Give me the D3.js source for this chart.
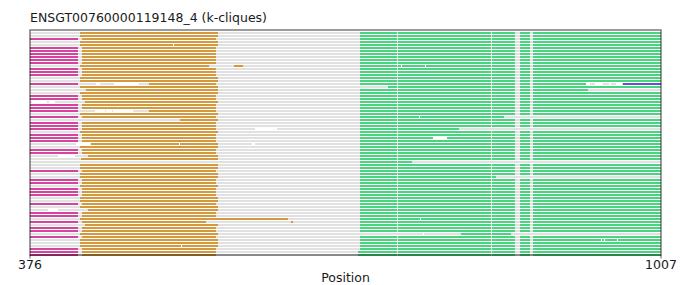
<!DOCTYPE html>
<html>
<head>
<meta charset="utf-8">
<script src="https://cdn.jsdelivr.net/npm/d3@7"></script>
<style>
  body { margin: 0; background: #fff; }
  text { font-family: "DejaVu Sans", sans-serif; fill: #1a1a1a; }
</style>
</head>
<body>
<div id="chart"></div>
<script>
const width = 691;
const height = 285;

// --- data (positions in sequence coordinates) ---
const title = "ENSGT00760000119148_4 (k-cliques)";
const xDomain = [376, 1007];
const xTicks = [376, 1007];
const rowCount = 75;

const magentaRows = [2, 5, 6, 7, 8, 9, 10, 12, 13, 14, 17, 21, 22, 24, 25, 26, 28, 30, 31, 32,
    34, 35, 36, 39, 40, 46, 49, 50, 52, 53, 54, 57, 60, 61, 63, 65, 66, 68, 72, 73, 74];
const magentaSpan = [376, 424];

// orange default depends on whether the row has a magenta block
const orangeWithMagenta = [428, 562];
const orangeWithout = [425.5, 563.5];
const orangeOverrides = [
    [11, [[425.5, 555], [580, 589]]],
    [17, [[495, 562]]],
    [19, [[432, 564]]],
    [23, [[431, 564]]],
    [26, [[495, 562]]],
    [29, [[526, 564]]],
    [37, [[437, 564]]],
    [41, [[434, 564]]],
    [42, [[427, 564]]],
    [43, []],
    [59, [[434, 564]]],
    [62, [[425.5, 633.7]]],
    [63, [[428, 552], [637, 639]]],
    [64, [[431, 564]]]
];

const greenDefault = [705.5, 1007];
const greenOverrides = [
    [17, [705.5, 932]],
    [18, [734, 1007]],
    [19, [705.5, 934]],
    [28, [705.5, 850]],
    [32, [705.5, 805]],
    [43, [705.5, 758]],
    [48, [705.5, 842]],
    [67, [807, 857]],
    [73, [704, 1007]],
    [74, [704, 1007]]
];
// columns missing in every green block
const greenGaps = [[743, 744], [837, 838], [861, 866], [876, 879]];

const purpleSegments = [[17, 969, 1007]];

// small white holes
const whiteGaps = [
    [4, 519, 520],
    [11, 747, 748], [11, 771, 772],
    [17, 442, 446], [17, 460, 485], [17, 932, 936], [17, 941, 949], [17, 955, 957], [17, 962, 968],
    [23, 378, 393], [23, 395, 401],
    [26, 441, 451], [26, 452, 458], [26, 459, 479],
    [28, 765, 766],
    [32, 601, 623],
    [35, 779, 793],
    [37, 422, 436], [37, 525, 526], [37, 598, 601],
    [41, 404, 421],
    [59, 394, 404],
    [62, 766, 767],
    [67, 769, 770],
    [69, 947, 948], [69, 950, 951], [69, 963, 964],
    [71, 527, 528]
];

const colors = {
    gray: "#e1e1e1",
    magenta: "#d6449e",
    orange: "#d4983e",
    green: "#4bd480",
    purple: "#6650d2"
};

// --- drawing ---
const svg = d3.select("#chart").append("svg")
    .attr("width", width)
    .attr("height", height);

const plot = { left: 30, right: 661, top: 30, bottom: 255 };

const x = d3.scaleLinear()
    .domain(xDomain)
    .range([plot.left, plot.right]);

const y = d3.scaleLinear()
    .domain([0, rowCount - 1])
    .range([32.7, 254.7]);

const barH = 2;

function segmentsFor(row) {
    const segs = [];
    segs.push({ row, a: xDomain[0], b: xDomain[1], color: colors.gray });
    const hasMagenta = magentaRows.includes(row);
    if (hasMagenta) segs.push({ row, a: magentaSpan[0], b: magentaSpan[1], color: colors.magenta });

    const oo = orangeOverrides.find(d => d[0] === row);
    const orange = oo ? oo[1] : [hasMagenta ? orangeWithMagenta : orangeWithout];
    orange.forEach(s => segs.push({ row, a: s[0], b: s[1], color: colors.orange }));

    const go = greenOverrides.find(d => d[0] === row);
    const g = go ? go[1] : greenDefault;
    // cut the shared gaps out of the green block
    let start = g[0];
    greenGaps.forEach(gap => {
        if (gap[0] > start && gap[0] < g[1]) {
            segs.push({ row, a: start, b: gap[0], color: colors.green });
            start = Math.max(start, gap[1]);
        }
    });
    if (start < g[1]) segs.push({ row, a: start, b: g[1], color: colors.green });

    purpleSegments.filter(d => d[0] === row)
        .forEach(d => segs.push({ row, a: d[1], b: d[2], color: colors.purple }));

    whiteGaps.filter(d => d[0] === row)
        .forEach(d => segs.push({ row, a: d[1], b: d[2], color: "#ffffff" }));
    return segs;
}

const allSegs = d3.range(rowCount).flatMap(segmentsFor);

svg.append("g")
    .selectAll("rect")
    .data(allSegs)
    .join("rect")
    .attr("x", d => x(d.a))
    .attr("width", d => Math.max(0, x(d.b) - x(d.a)))
    .attr("y", d => y(d.row) - barH / 2)
    .attr("height", barH)
    .attr("fill", d => d.color)
    .attr("shape-rendering", "crispEdges");

// frame (semi-transparent dark, so the bottom row shows through darkened)
svg.append("rect")
    .attr("x", plot.left)
    .attr("y", plot.top)
    .attr("width", plot.right - plot.left)
    .attr("height", plot.bottom - plot.top)
    .attr("fill", "none")
    .attr("stroke", "#000")
    .attr("stroke-opacity", 0.6)
    .attr("stroke-width", 1.3);

const xAxis = svg.append("g")
    .attr("transform", `translate(0,${plot.bottom})`);

xAxis.selectAll("line")
    .data(xTicks)
    .join("line")
    .attr("x1", d => x(d))
    .attr("x2", d => x(d))
    .attr("y1", 0)
    .attr("y2", 3.5)
    .attr("stroke", "#000")
    .attr("stroke-opacity", 0.6);

xAxis.selectAll("text")
    .data(xTicks)
    .join("text")
    .attr("x", d => x(d))
    .attr("y", 13.5)
    .attr("text-anchor", "middle")
    .style("font-size", "12.5px")
    .text(d => d);

svg.append("text")
    .attr("x", (plot.left + plot.right) / 2)
    .attr("y", 282)
    .attr("text-anchor", "middle")
    .style("font-size", "12.5px")
    .text("Position");

svg.append("text")
    .attr("x", plot.left)
    .attr("y", 22)
    .style("font-size", "12.5px")
    .text(title);
</script>
</body>
</html>
